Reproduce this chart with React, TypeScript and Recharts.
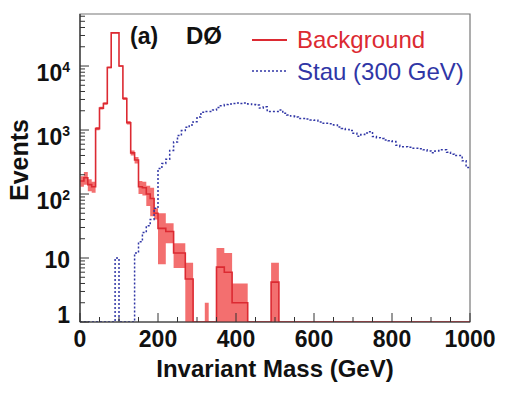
import React from 'react';
import { ComposedChart, Line, Area, XAxis, YAxis, ReferenceArea } from 'recharts';

// ---- data (10 GeV bins, starting at 0 GeV) ----
const BIN_WIDTH = 10;

// Background (red) histogram contents per bin
const bgCounts = [
  160, 180, 140, 130, 1050, 2200, 2600, 9500, 33000, 33000,
  10000, 3100, 1300, 440, 340, 130, 125, 100, 85, 50,
  29, 29, 26, 26, 12, 12, 12, 4.7, 4.7, 0,
  0, 0, 1, 0, 0, 7.2, 7.2, 6, 6, 2,
  2, 2, 2, 0, 0, 0, 0, 0, 0, 4.2,
  4.2, 0, 0, 0, 0, 0, 0, 0, 0, 0,
  0, 0, 0, 0, 0, 0, 0, 0, 0, 0,
  0, 0, 0, 0, 0, 0, 0, 0, 0, 0,
  0, 0, 0, 0, 0, 0, 0, 0, 0, 0,
  0, 0, 0, 0, 0, 0, 0, 0, 0, 0,
];

// Background uncertainty per bin
const bgErrors = [
  30, 40, 30, 25, 60, 100, 120, 300, 600, 600,
  300, 150, 80, 40, 40, 30, 30, 35, 40, 10,
  21, 21, 9, 9, 5, 5, 5, 3.7, 3.7, 0,
  0, 0, 1, 0, 0, 7.1, 7.1, 6, 6, 2,
  2, 2, 2, 0, 0, 0, 0, 0, 0, 4.2,
  4.2, 0, 0, 0, 0, 0, 0, 0, 0, 0,
  0, 0, 0, 0, 0, 0, 0, 0, 0, 0,
  0, 0, 0, 0, 0, 0, 0, 0, 0, 0,
  0, 0, 0, 0, 0, 0, 0, 0, 0, 0,
  0, 0, 0, 0, 0, 0, 0, 0, 0, 0,
];

// Stau (300 GeV) signal histogram contents per bin
const stauCounts = [
  0, 0, 0, 0, 0, 0, 0, 0, 0, 10,
  0, 0, 0, 0, 12, 18, 25, 32, 40, 60,
  250, 300, 350, 480, 650, 820, 980, 1100, 1200, 1350,
  1600, 1900, 1950, 1950, 2050, 2250, 2400, 2500, 2550, 2600,
  2650, 2600, 2650, 2550, 2500, 2450, 2200, 2300, 1950, 1950,
  1950, 2050, 1820, 1720, 1650, 1600, 1520, 1520, 1480, 1440,
  1420, 1340, 1280, 1270, 1250, 1200, 1110, 1060, 1020, 980,
  890, 800, 850, 900, 940, 790, 760, 740, 700, 680,
  660, 580, 550, 550, 540, 520, 520, 510, 490, 470,
  440, 470, 490, 490, 450, 420, 400, 400, 330, 260,
];

const xTicks = [
  0, 50, 100, 150, 200, 250, 300, 350, 400, 450, 500,
  550, 600, 650, 700, 750, 800, 850, 900, 950, 1000,
];
const xMajorTicks = [0, 200, 400, 600, 800, 1000];

const yTicks = [
  1, 2, 3, 4, 5, 6, 7, 8, 9,
  10, 20, 30, 40, 50, 60, 70, 80, 90,
  100, 200, 300, 400, 500, 600, 700, 800, 900,
  1000, 2000, 3000, 4000, 5000, 6000, 7000, 8000, 9000,
  10000, 20000, 30000, 40000, 50000, 60000,
];
const yDecadeTicks = [1, 10, 100, 1000, 10000];
const yDecadeBase = ['1', '10', '10', '10', '10'];
const yDecadeExp = ['', '', '2', '3', '4'];

const Y_MIN = 1;
const Y_MAX = 65000;

// ---- derived tables for the library ----
const FLOOR = Y_MIN;
const toStep = (counts: number[]) =>
  counts.flatMap((v, i) => {
    const y = Math.max(v, FLOOR);
    return [
      { x: i * BIN_WIDTH, y },
      { x: (i + 1) * BIN_WIDTH, y },
    ];
  });

const bgLine = toStep(bgCounts);
const stauLine = toStep(stauCounts);
const bgBand = bgCounts.flatMap((v, i) => {
  const e = bgErrors[i];
  const band = [Math.max(v - e, FLOOR), Math.max(v + e, FLOOR)];
  return [
    { x: i * BIN_WIDTH, band },
    { x: (i + 1) * BIN_WIDTH, band },
  ];
});

const FONT = '"Liberation Sans", Arial, Helvetica, sans-serif';
const AXIS_COLOR = '#333';
const RED = '#dc2a32';
const BLUE = '#3036a6';

const XTick = (props: any) => {
  const { x, y, payload } = props;
  const v = payload.value;
  const major = xMajorTicks.includes(v);
  return (
    <g>
      <line x1={x} x2={x} y1={y} y2={y - (major ? 9 : 5)} stroke={AXIS_COLOR} strokeWidth={1} />
      {major && (
        <text x={x} y={y + 25} textAnchor="middle" fontFamily={FONT} fontWeight="bold" fontSize={23} fill="#111">
          {String(v)}
        </text>
      )}
    </g>
  );
};

const YTick = (props: any) => {
  const { x, y, payload } = props;
  const v = payload.value;
  const idx = yDecadeTicks.indexOf(v);
  const major = idx >= 0;
  const exp = major ? yDecadeExp[idx] : '';
  const baseOffset = !major ? 0 : idx === 0 ? 1 : exp ? 15 : 10;
  return (
    <g>
      <line x1={x} x2={x + (major ? 9 : 5)} y1={y} y2={y} stroke={AXIS_COLOR} strokeWidth={1} />
      {major && (
        <text x={x - 10} y={y + baseOffset} textAnchor="end" fontFamily={FONT} fontWeight="bold" fontSize={23} fill="#111">
          <tspan>{yDecadeBase[idx]}</tspan>
          {exp && (
            <tspan dy={-9} fontSize={14}>
              {exp}
            </tspan>
          )}
        </text>
      )}
    </g>
  );
};

export default function App() {
  return (
    <div style={{ position: 'absolute', left: 0, top: 0, width: 508, height: 393, background: '#fff' }}>
      <ComposedChart width={508} height={393} margin={{ top: 14, right: 38, bottom: 21, left: 10 }}>
        <XAxis
          dataKey="x"
          type="number"
          domain={[0, 1000]}
          allowDataOverflow
          ticks={xTicks}
          interval={0}
          tick={(p: any) => <XTick {...p} />}
          tickLine={false}
          tickSize={0}
          tickMargin={0}
          axisLine={{ stroke: AXIS_COLOR, strokeWidth: 1.2 }}
          height={50}
        />
        <YAxis
          type="number"
          scale="log"
          domain={[Y_MIN, Y_MAX]}
          allowDataOverflow
          ticks={yTicks}
          interval={0}
          tick={(p: any) => <YTick {...p} />}
          tickLine={false}
          tickSize={0}
          tickMargin={0}
          axisLine={{ stroke: AXIS_COLOR, strokeWidth: 1.2 }}
          width={70}
        />
        <ReferenceArea x1={0} x2={1000} y1={Y_MIN} y2={Y_MAX} fill="none" stroke="#777" strokeWidth={1.2} />
        <Area
          data={bgBand}
          dataKey="band"
          type="linear"
          stroke="none"
          fill="#f15656"
          fillOpacity={0.85}
          isAnimationActive={false}
          dot={false}
          activeDot={false}
        />
        <Line
          data={bgLine}
          dataKey="y"
          type="linear"
          stroke={RED}
          strokeWidth={1.6}
          dot={false}
          activeDot={false}
          isAnimationActive={false}
        />
        <Line
          data={stauLine}
          dataKey="y"
          type="linear"
          stroke={BLUE}
          strokeWidth={1.5}
          strokeDasharray="2 2"
          dot={false}
          activeDot={false}
          isAnimationActive={false}
        />
      </ComposedChart>
      <svg
        width={508}
        height={393}
        style={{ position: 'absolute', left: 0, top: 0, pointerEvents: 'none' }}
      >
        <text x={130} y={44} fontFamily={FONT} fontWeight="bold" fontSize={23} fill="#111">(a)</text>
        <text x={186} y={44} fontFamily={FONT} fontWeight="bold" fontSize={24} fill="#111">DØ</text>
        <line x1={252} x2={287} y1={40} y2={40} stroke={RED} strokeWidth={2} />
        <text x={297} y={48} fontFamily={FONT} fontSize={24} fill={RED}>Background</text>
        <line x1={252} x2={287} y1={71} y2={71} stroke={BLUE} strokeWidth={1.5} strokeDasharray="2 2" />
        <text x={297} y={80} fontFamily={FONT} fontSize={24} fill={BLUE}>Stau (300 GeV)</text>
        <text x={275} y={377} textAnchor="middle" fontFamily={FONT} fontWeight="bold" fontSize={24} fill="#111">
          Invariant Mass (GeV)
        </text>
        <text
          x={0}
          y={0}
          transform="translate(28,160) rotate(-90)"
          textAnchor="middle"
          fontFamily={FONT}
          fontWeight="bold"
          fontSize={25}
          fill="#111"
        >
          Events
        </text>
      </svg>
    </div>
  );
}
